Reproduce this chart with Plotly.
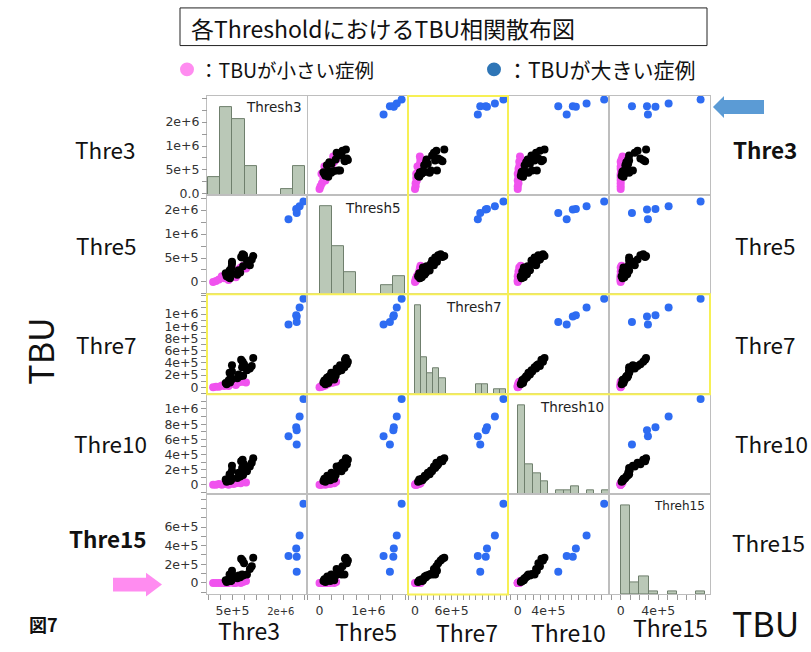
import numpy as np
import plotly.graph_objects as go

W, H = 811, 652

# TBU per case at each threshold, in units of 1e6
# cases with small TBU
low_t3 = [0.10, 0.16, 0.22, 0.28, 0.33, 0.38, 0.42, 0.47, 0.52, 0.57, 0.62, 0.67, 0.72, 0.78]
low_t5 = [0.00, 0.02, 0.05, 0.12, 0.08, 0.15, 0.04, 0.18, 0.22, 0.10, 0.26, 0.30, 0.34, 0.28]
low_t7 = [0.00, 0.01, 0.01, 0.03, 0.02, 0.05, 0.02, 0.06, 0.07, 0.04, 0.08, 0.09, 0.09, 0.08]
low_t10 = [0.00, 0.00, 0.01, 0.00, 0.01, 0.01, 0.00, 0.02, 0.01, 0.02, 0.03, 0.02, 0.04, 0.03]
low_t15 = [0.00, 0.00, 0.00, 0.00, 0.00, 0.00, 0.00, 0.01, 0.00, 0.00, 0.01, 0.00, 0.01, 0.02]

# intermediate cases
mid_t3 = [0.38, 0.45, 0.36, 0.47, 0.42, 0.60, 0.48, 0.66, 0.46, 0.72, 0.44,
          0.63, 0.80, 0.49, 0.70, 0.86, 0.49, 0.74, 0.90, 0.68, 0.71, 0.93]
mid_t5 = [0.12, 0.08, 0.18, 0.22, 0.10, 0.15, 0.30, 0.20, 0.16, 0.33, 0.24,
          0.245, 0.45, 0.38, 0.51, 0.35, 0.42, 0.56, 0.47, 0.52, 0.58, 0.54]
mid_t7 = [0.05, 0.08, 0.07, 0.12, 0.11, 0.15, 0.13, 0.18, 0.16, 0.19, 0.24,
          0.21, 0.28, 0.26, 0.33, 0.31, 0.36, 0.38, 0.35, 0.45, 0.42, 0.48]
mid_t10 = [0.04, 0.05, 0.07, 0.06, 0.08, 0.09, 0.08, 0.11, 0.12, 0.13, 0.14,
           0.16, 0.18, 0.19, 0.22, 0.24, 0.25, 0.27, 0.29, 0.31, 0.33, 0.35]
mid_t15 = [0.01, 0.02, 0.03, 0.02, 0.04, 0.05, 0.03, 0.06, 0.07, 0.08, 0.09,
           0.08, 0.09, 0.095, 0.09, 0.15, 0.13, 0.21, 0.18, 0.26, 0.24, 0.27]

# cases with large TBU
high_t3 = [1.83, 1.66, 1.83, 1.82, 1.89, 1.97]
high_t5 = [1.44, 1.31, 1.51, 1.52, 1.58, 1.68]
high_t7 = [1.07, 1.03, 1.16, 1.18, 1.31, 1.45]
high_t10 = [0.53, 0.64, 0.72, 0.76, 0.90, 1.13]
high_t15 = [0.12, 0.29, 0.28, 0.37, 0.51, 0.85]

panel_names = ["Thresh3", "Thresh5", "Thresh7", "Thresh10", "Threh15"]
row_names = ["Thre3", "Thre5", "Thre7", "Thre10", "Thre15"]

low = [low_t3, low_t5, low_t7, low_t10, low_t15]
mid = [mid_t3, mid_t5, mid_t7, mid_t10, mid_t15]
high = [high_t3, high_t5, high_t7, high_t10, high_t15]

# axis settings per variable
axis_range = [[-0.027, 2.043], [-0.256, 1.81], [-0.115, 1.525], [-0.127, 1.193], [-0.124, 0.95]]
bin_size = [0.25, 0.25, 0.1, 0.1, 0.1]
tick_step = [0.25, 0.25, 0.1, 0.1, 0.1]
y_tick_labels = [
    {0.0: "0.0", 0.5: "5e+5", 1.0: "1e+6", 1.5: "2e+6"},
    {0.0: "0", 0.5: "5e+5", 1.0: "1e+6", 1.5: "2e+6"},
    {0.0: "0", 0.2: "2e+5", 0.4: "4e+5", 0.6: "6e+5", 0.8: "8e+5", 1.0: "1e+6", 1.2: "1e+6"},
    {0.0: "0", 0.2: "2e+5", 0.4: "4e+5", 0.6: "6e+5", 0.8: "8e+5", 1.0: "1e+6"},
    {0.0: "0", 0.2: "2e+5", 0.4: "4e+5", 0.6: "6e+5"},
]
x_tick_labels = [
    {0.5: "5e+5", 1.5: "<span style='font-size:10px'>2e+6</span>"},
    {0.0: "0", 1.0: "1e+6"},
    {0.0: "0", 0.6: "6e+5"},
    {0.0: "0", 0.4: "4e+5"},
    {0.0: "0", 0.4: "4e+5"},
]

col_edges = [207, 307, 408, 508, 609, 710]
row_edges = [97, 197, 297, 398, 499, 600]

C_LOW = "#F052EE"
C_MID = "#000000"
C_HIGH = "#2E6CF2"
GRID = "#BEBEBE"
TICK = "#9A9A9A"
YELLOW = "#F7F055"
TICKFONT = dict(family="DejaVu Sans", size=12.5, color="#333")


def px(x):
    return x / W


def py(y):
    return 1 - y / H


def ticks_for(i, labels):
    lo, hi = axis_range[i]
    step = tick_step[i]
    k0 = int(np.ceil(lo / step - 1e-9))
    k1 = int(np.floor(hi / step + 1e-9))
    vals = [round(k * step, 4) for k in range(k0, k1 + 1)]
    text = [labels.get(v, "") for v in vals]
    return vals, text


fig = go.Figure()
layout = {}

for r in range(5):
    for c in range(5):
        k = r * 5 + c + 1
        xa = "xaxis" if k == 1 else f"xaxis{k}"
        ya = "yaxis" if k == 1 else f"yaxis{k}"
        xid = "x" if k == 1 else f"x{k}"
        yid = "y" if k == 1 else f"y{k}"

        xax = dict(domain=[px(col_edges[c]), px(col_edges[c + 1])], anchor=yid,
                   range=axis_range[c], showgrid=False, zeroline=False,
                   showline=True, mirror=True, linecolor=GRID, linewidth=1,
                   fixedrange=True)
        if r == 4:
            vals, text = ticks_for(c, x_tick_labels[c])
            xax.update(tickmode="array", tickvals=vals, ticktext=text, ticks="outside",
                       ticklen=5, tickcolor=TICK, tickfont=TICKFONT)
        else:
            xax.update(showticklabels=False, ticks="")

        yax = dict(domain=[py(row_edges[r + 1]), py(row_edges[r])], anchor=xid,
                   showgrid=False, zeroline=False, showline=True, mirror=True,
                   linecolor=GRID, linewidth=1, fixedrange=True,
                   showticklabels=False, ticks="")
        if r == c:
            # histogram on the diagonal, with its own count scale
            values = low[c] + mid[c] + high[c]
            edges = np.arange(0, max(values) + bin_size[c] * 1.01, bin_size[c])
            counts, _ = np.histogram(values, bins=edges)
            yax["range"] = [0, counts.max() / 0.89]
            fig.add_trace(go.Histogram(
                x=values, xbins=dict(start=0, end=float(edges[-1]), size=bin_size[c]),
                marker=dict(color="#BAC8B7", line=dict(color="#6F7F6D", width=1)),
                xaxis=xid, yaxis=yid, showlegend=False, hoverinfo="skip"))
        else:
            yax["range"] = axis_range[r]
            for grp, col in ((low, C_LOW), (mid, C_MID), (high, C_HIGH)):
                fig.add_trace(go.Scatter(
                    x=grp[c], y=grp[r], mode="markers",
                    marker=dict(color=col, size=8, line=dict(width=0)),
                    xaxis=xid, yaxis=yid, showlegend=False, hoverinfo="skip"))

        # value ticks on the left edge of each row
        if (c == 0 and r > 0) or (r == 0 and c == 1):
            vals, text = ticks_for(r, y_tick_labels[r])
            yax.update(tickmode="array", tickvals=vals, ticktext=text, ticks="outside",
                       ticklen=5, tickcolor=TICK, showticklabels=True, tickfont=TICKFONT)
            if r == 0:
                # first row: the diagonal holds the histogram, so the scale sits on the next cell's axis
                yax.update(anchor="free", position=px(col_edges[0]), showline=False)
        layout[xa] = xax
        layout[ya] = yax

ann = []
JP = "Noto Sans CJK JP"


def text(x, y, s, size, bold=False, xanchor="center", yanchor="middle", family=JP, angle=0, color="#111"):
    ann.append(dict(x=px(x), y=py(y), xref="paper", yref="paper", text=f"<b>{s}</b>" if bold else s,
                    showarrow=False, xanchor=xanchor, yanchor=yanchor, textangle=angle,
                    font=dict(family=family, size=size, color=color)))


# labels inside the diagonal histograms
diag_pos = [(304, 108, 13.5), (403, 210, 13.5), (504, 310, 13.5), (606, 411, 13.5), (707, 511, 12)]
for name, (x, y, s) in zip(panel_names, diag_pos):
    text(x, y, name, s, xanchor="right", family="DejaVu Sans", color="#222")

# row labels on both sides
left_pos = [(105, 150), (106, 247), (107, 347), (110, 447), (108, 543)]
right_pos = [(765, 150), (765, 247), (765, 347), (771, 447), (768, 547)]
for i, name in enumerate(row_names):
    text(*left_pos[i], name, 22.5, bold=(i == 4))
    text(*right_pos[i], name, 22.5, bold=(i == 0))

# column labels along the bottom
bottom_pos = [(249, 636), (366, 637), (467, 638), (568, 638), (670, 633)]
for name, pos in zip(row_names, bottom_pos):
    text(*pos, name, 23)

text(765, 628, "TBU", 34)
text(40, 355, "TBU", 34, angle=-90)
text(43, 630, "図7", 18, bold=True)

# title and legend
text(189, 28, "各ThresholdにおけるTBU相関散布図", 23, xanchor="left")
text(197, 70, "：TBUが小さい症例", 19.5, xanchor="left")
text(505, 70, "：TBUが大きい症例", 21, xanchor="left")

shapes = []
shapes.append(dict(type="rect", xref="paper", yref="paper", x0=px(180), x1=px(707), y0=py(46), y1=py(8),
                   line=dict(color="#222", width=1)))
shapes.append(dict(type="circle", xref="paper", yref="paper", x0=px(180), x1=px(194), y0=py(77), y1=py(63),
                   fillcolor="#FF8CF0", line=dict(width=0)))
shapes.append(dict(type="circle", xref="paper", yref="paper", x0=px(487), x1=px(501), y0=py(77), y1=py(63),
                   fillcolor="#2E75B6", line=dict(width=0)))

# highlighted column and row
shapes.append(dict(type="rect", xref="paper", yref="paper", x0=px(408), x1=px(508), y0=py(600), y1=py(97),
                   line=dict(color=YELLOW, width=2), layer="above"))
shapes.append(dict(type="rect", xref="paper", yref="paper", x0=px(207), x1=px(710), y0=py(398), y1=py(297),
                   line=dict(color=YELLOW, width=2), layer="above"))


def arrow_path(pts):
    return "M " + " L ".join(f"{px(x):.5f},{py(y):.5f}" for x, y in pts) + " Z"


# blue arrow pointing left at the top row
shapes.append(dict(type="path", xref="paper", yref="paper",
                   path=arrow_path([(713, 108), (724, 97), (724, 101), (764, 101), (764, 115), (724, 115), (724, 119)]),
                   fillcolor="#5B9BD5", line=dict(width=0)))
# pink arrow pointing right at the bottom row
shapes.append(dict(type="path", xref="paper", yref="paper",
                   path=arrow_path([(162, 590), (146, 578), (146, 583), (113, 583), (113, 597), (146, 597), (146, 602)]),
                   fillcolor="#FF8CF0", line=dict(width=0)))

fig.update_layout(
    width=W, height=H, margin=dict(l=0, r=0, t=0, b=0),
    paper_bgcolor="white", plot_bgcolor="white",
    bargap=0, showlegend=False,
    annotations=ann, shapes=shapes,
    **layout,
)

fig.write_html("out.html")
